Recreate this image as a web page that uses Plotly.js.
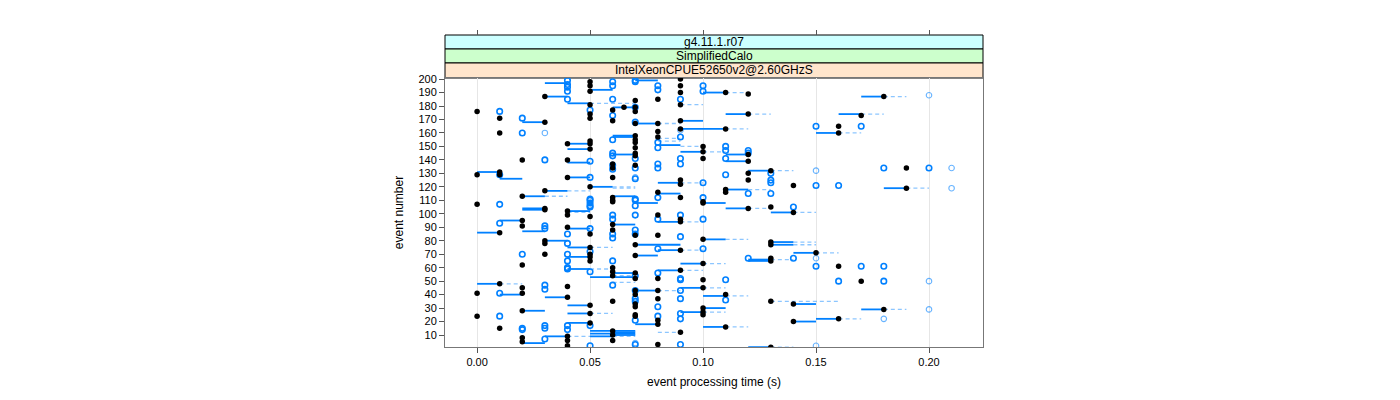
<!DOCTYPE html>
<html>
<head>
<meta charset="utf-8">
<script src="https://cdn.plot.ly/plotly-3.0.1.min.js"></script>
<style>html,body{margin:0;padding:0;background:#fff;}#chart{width:1400px;height:400px;}</style>
</head>
<body>
<div id="chart"></div>
<script>
// ---- data (event number, time in s) ----
const blackEvt = [198,195,191,187,181,179,179,176,177,176,171,168,174,171,169,160,158,155,153,152,154,152,148,145,140,140,137,134,136,129,131,129,127,127,120,117,113,112,109,107,104,
110,103,102,99,98,95,91,90,86,85,92,88,84,80,78,75,70,70,68,65,62,60,57,54,48,46,45,41,41,38,35,43,40,33,32,28,26,24,19,25,15,13,10,6,9,6,8,5,2,
200,195,190,190,189,185,181,184,174,169,167,167,163,163,161,157,150,149,146,141,144,139,143,132,130,125,121,125,122,118,116,116,112,109,104,105,
187,173,165,160,134,119,
108,101,99,96,94,84,77,73,81,79,77,71,69,67,65,63,58,56,52,52,51,45,43,40,37,31,30,27,25,35,33,24,21,18,16,20,12,3,1,
61,50,29,22];
const blackTime = [0.05,0.05,0.05,0.03,0.05,0.065,0.07,0.07,0.06,0.00,0.01,0.03,0.05,0.05,0.06,0.01,0.07,0.07,0.07,0.04,0.05,0.05,0.05,0.07,0.02,0.04,0.06,0.06,0.07,0.00,0.01,0.01,0.04,0.06,0.05,0.03,0.02,0.06,0.06,0.00,0.03,
0.06,0.03,0.04,0.04,0.05,0.02,0.02,0.04,0.01,0.05,0.06,0.06,0.07,0.03,0.03,0.05,0.03,0.05,0.05,0.05,0.02,0.06,0.06,0.06,0.01,0.04,0.02,0.02,0.00,0.04,0.06,0.07,0.07,0.07,0.05,0.02,0.05,0.00,0.05,0.07,0.01,0.06,0.06,0.06,0.04,0.04,0.02,0.02,0.04,
0.09,0.09,0.09,0.11,0.12,0.08,0.09,0.07,0.12,0.09,0.07,0.08,0.09,0.11,0.08,0.08,0.10,0.07,0.10,0.10,0.12,0.12,0.07,0.13,0.12,0.12,0.14,0.09,0.09,0.11,0.11,0.08,0.09,0.10,0.12,0.13,
0.18,0.17,0.16,0.16,0.19,0.19,
0.10,0.14,0.08,0.09,0.09,0.08,0.07,0.09,0.10,0.13,0.13,0.15,0.07,0.13,0.13,0.10,0.09,0.07,0.07,0.08,0.10,0.10,0.08,0.11,0.08,0.07,0.10,0.10,0.10,0.13,0.14,0.07,0.08,0.08,0.11,0.14,0.09,0.08,0.13,
0.16,0.17,0.18,0.16];

const darkEvt = [199,196,194,191,198,195,198,185,185,177,176,171,173,168,160,155,145,143,141,140,139,136,133,134,129,127,111,108,105,111,106,107,
110,106,110,99,96,99,93,91,89,85,89,85,82,88,85,78,72,70,70,65,65,60,59,57,47,44,47,41,37,35,24,17,14,17,15,14,17,15,7,2,
199,195,192,195,191,185,179,165,157,153,149,150,147,147,145,141,141,137,137,134,129,130,125,123,121,126,123,115,115,112,112,105,
165,134,134,121,
96,99,96,83,74,74,67,67,56,54,52,51,51,43,43,36,37,31,26,22,21,24,3,3,
61,61,61,50,50];
const darkTime = [0.04,0.04,0.04,0.04,0.06,0.06,0.07,0.04,0.06,0.05,0.01,0.02,0.06,0.07,0.02,0.06,0.06,0.06,0.07,0.03,0.05,0.06,0.06,0.07,0.01,0.05,0.05,0.05,0.05,0.07,0.07,0.01,
0.05,0.05,0.07,0.06,0.06,0.07,0.01,0.03,0.03,0.04,0.05,0.06,0.06,0.07,0.07,0.04,0.05,0.02,0.04,0.04,0.06,0.04,0.04,0.05,0.03,0.03,0.06,0.01,0.07,0.07,0.01,0.04,0.04,0.05,0.02,0.02,0.03,0.03,0.03,0.05,
0.07,0.08,0.08,0.10,0.10,0.09,0.07,0.15,0.09,0.08,0.08,0.11,0.11,0.12,0.12,0.11,0.09,0.09,0.08,0.08,0.11,0.13,0.13,0.13,0.15,0.07,0.10,0.12,0.13,0.08,0.10,0.14,
0.17,0.18,0.20,0.16,
0.08,0.09,0.10,0.09,0.08,0.10,0.12,0.14,0.08,0.07,0.09,0.09,0.11,0.09,0.07,0.11,0.09,0.08,0.09,0.09,0.07,0.08,0.07,0.09,
0.15,0.17,0.18,0.16,0.18];

const lightEvt  = [160,127,4,132,134,119,188,67,50,29,22,2,162];
const lightTime = [0.03,0.07,0.07,0.15,0.21,0.21,0.20,0.15,0.20,0.20,0.18,0.15,0.09];

const solidEvt  = [197,192,187,182,168,157,152,148,144,138,131,126,127,120,117,113,113,104,102,
103,95,87,89,86,92,80,75,68,59,53,56,48,40,38,32,28,26,19,13,11,9,9,4,
199,190,179,174,169,167,163,158,151,146,144,139,132,123,118,115,108,104,
187,174,160,119,
108,101,94,77,73,81,79,77,71,69,66,65,63,58,45,43,39,30,27,33,18,16,20,12,10,1,
29,22];
const solidFrom = [0.03,0.05,0.03,0.04,0.02,0.06,0.04,0.04,0.06,0.04,0.00,0.01,0.04,0.05,0.03,0.02,0.06,0.02,0.04,
0.02,0.01,0.02,0.04,0.00,0.06,0.03,0.04,0.04,0.04,0.05,0.06,0.00,0.01,0.03,0.04,0.02,0.04,0.04,0.05,0.05,0.05,0.03,0.02,
0.07,0.10,0.06,0.11,0.09,0.07,0.09,0.06,0.08,0.09,0.11,0.11,0.12,0.08,0.11,0.08,0.07,0.11,
0.17,0.16,0.15,0.18,
0.10,0.13,0.08,0.07,0.08,0.10,0.13,0.13,0.14,0.07,0.12,0.12,0.09,0.08,0.09,0.07,0.10,0.10,0.09,0.14,0.07,0.10,0.14,0.06,0.06,0.12,
0.17,0.15];
const solidTo = [0.04,0.06,0.04,0.05,0.03,0.07,0.05,0.05,0.07,0.05,0.01,0.02,0.05,0.06,0.04,0.03,0.07,0.03,0.05,
0.03,0.02,0.03,0.05,0.01,0.07,0.04,0.05,0.05,0.05,0.07,0.07,0.01,0.02,0.04,0.05,0.03,0.05,0.05,0.07,0.07,0.06,0.04,0.03,
0.08,0.11,0.07,0.12,0.10,0.08,0.11,0.07,0.09,0.10,0.12,0.12,0.13,0.09,0.12,0.09,0.08,0.12,
0.18,0.17,0.16,0.19,
0.11,0.14,0.09,0.09,0.09,0.11,0.14,0.14,0.15,0.08,0.13,0.13,0.10,0.09,0.10,0.08,0.11,0.11,0.10,0.15,0.08,0.11,0.15,0.07,0.07,0.13,
0.18,0.16];

const dashEvt  = [182,181,120,117,113,101,75,59,48,26,9,9,
190,174,167,163,156,154,150,146,132,123,119,118,104,
187,174,160,119,
101,94,73,81,79,77,71,66,63,58,54,49,45,43,39,27,35,16,12,1,29,22];
const dashFrom = [0.05,0.09,0.06,0.04,0.03,0.04,0.05,0.05,0.01,0.05,0.06,0.04,
0.11,0.12,0.08,0.11,0.08,0.08,0.09,0.10,0.13,0.09,0.06,0.12,0.12,
0.18,0.17,0.16,0.19,
0.14,0.09,0.09,0.11,0.14,0.14,0.15,0.13,0.10,0.09,0.06,0.06,0.10,0.08,0.11,0.10,0.13,0.11,0.08,0.13,0.18,0.16];
const dashTo = [0.07,0.10,0.07,0.05,0.04,0.05,0.06,0.06,0.02,0.06,0.07,0.05,
0.12,0.13,0.09,0.12,0.09,0.09,0.10,0.11,0.14,0.10,0.07,0.13,0.13,
0.19,0.18,0.17,0.20,
0.15,0.10,0.10,0.12,0.15,0.15,0.16,0.14,0.11,0.10,0.07,0.07,0.11,0.09,0.12,0.11,0.16,0.12,0.09,0.14,0.19,0.17];

const xTicks = [0, 0.05, 0.10, 0.15, 0.20];
const xTickText = ["0.00","0.05","0.10","0.15","0.20"];
const yTicks = [10,20,30,40,50,60,70,80,90,100,110,120,130,140,150,160,170,180,190,200];
const strips = ["g4.11.1.r07", "SimplifiedCalo", "IntelXeonCPUE52650v2@2.60GHzS"];
const stripColors = ["#ccffff", "#ccffcc", "#ffe5cc"];

function segs(evt, from, to) {
  const xs = [], ys = [];
  for (let i = 0; i < evt.length; i++) { xs.push(from[i], to[i], null); ys.push(evt[i], evt[i], null); }
  return {x: xs, y: ys};
}
const s = segs(solidEvt, solidFrom, solidTo);
const d = segs(dashEvt, dashFrom, dashTo);

const traces = [
  {type:'scatter', mode:'lines', x:d.x, y:d.y, line:{color:'rgba(0,128,255,0.45)', width:1.3, dash:'4px,3px'}, hoverinfo:'skip', connectgaps:false},
  {type:'scatter', mode:'lines', x:s.x, y:s.y, line:{color:'#0080ff', width:1.8}, hoverinfo:'skip', connectgaps:false},
  {type:'scatter', mode:'markers', x:lightTime, y:lightEvt, marker:{symbol:'circle-open', size:5.5, color:'rgba(0,128,255,0.6)', line:{width:1.1}}},
  {type:'scatter', mode:'markers', x:darkTime, y:darkEvt, marker:{symbol:'circle-open', size:5.5, color:'#0080ff', line:{width:1.6}}},
  {type:'scatter', mode:'markers', x:blackTime, y:blackEvt, marker:{symbol:'circle', size:5.5, color:'#000000'}},
  {type:'scatter', mode:'markers', x:[0.1], y:[100], xaxis:'x2', marker:{opacity:0}, hoverinfo:'skip'}
];

const fontFam = '"Liberation Sans Narrow", "Liberation Sans", Arial, sans-serif';
const xr = [-0.0142, 0.2239];
const ydomTop = 0.8622;
const stripEdges = [1.0, 0.9551, 0.9103, ydomTop];

const shapes = [];
const annotations = [];
for (let i = 0; i < 3; i++) {
  shapes.push({type:'rect', xref:'paper', yref:'paper', x0:0, x1:1, y0:stripEdges[i+1], y1:stripEdges[i],
    fillcolor: stripColors[i], line:{color:'#000', width:1}, layer:'below'});
  annotations.push({xref:'paper', yref:'paper', x:0.5, y:(stripEdges[i]+stripEdges[i+1])/2, text:strips[i],
    showarrow:false, font:{family:fontFam, size:12, color:'#000'}, xanchor:'center', yanchor:'middle'});
}

const layout = {
  width:1400, height:400,
  margin:{l:445, r:417, t:35, b:53},
  paper_bgcolor:'#fff', plot_bgcolor:'#fff',
  showlegend:false,
  font:{family:fontFam, size:11, color:'#000'},
  xaxis:{range:xr, tickvals:xTicks, ticktext:xTickText, ticks:'outside', ticklen:5, tickcolor:'#555',
    showline:true, mirror:true, linecolor:'#777', linewidth:1, showgrid:true, gridcolor:'#e6e6e6', gridwidth:1,
    zeroline:false, anchor:'y', tickfont:{family:fontFam, size:11},
    title:{text:'event processing time (s)', font:{family:fontFam, size:12}, standoff:10}},
  xaxis2:{range:xr, tickvals:xTicks, ticks:'outside', ticklen:5, tickcolor:'#555', showticklabels:false,
    overlaying:'x', side:'top', anchor:'free', position:1, showline:false, showgrid:false, zeroline:false},
  yaxis:{range:[1.1, 200.8], domain:[0, ydomTop], tickvals:yTicks, ticks:'outside', ticklen:5, tickcolor:'#555',
    showline:true, mirror:true, linecolor:'#777', linewidth:1, showgrid:false, zeroline:false,
    tickfont:{family:fontFam, size:11},
    title:{text:'event number', font:{family:fontFam, size:12}, standoff:12}},
  shapes: shapes,
  annotations: annotations
};

Plotly.newPlot('chart', traces, layout, {displayModeBar:false, staticPlot:true});
</script>
</body>
</html>
